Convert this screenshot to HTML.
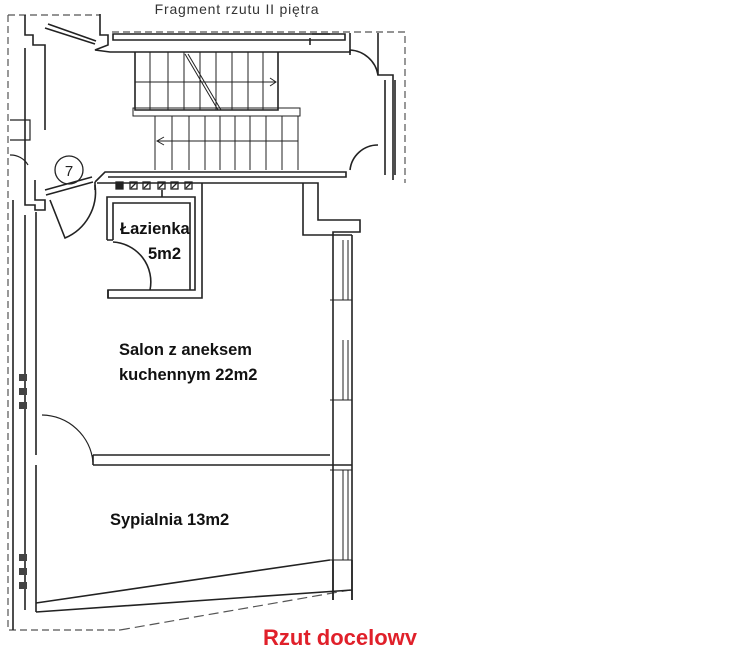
<!DOCTYPE html>
<html><head><meta charset="utf-8"><style>
html,body{margin:0;padding:0;background:#fff;}
svg{display:block;}
</style></head><body>
<svg width="752" height="645" viewBox="0 0 752 645" xmlns="http://www.w3.org/2000/svg">
<g fill="none" stroke="#222" stroke-width="1.6">
<path d="M8 15 H100 M8 15 V630 L120 630 M112 32 H405 V183" stroke-dasharray="7 4" stroke-width="1.2" stroke="#555"/>
<path d="M120 630 L350 590" stroke-dasharray="10 5" stroke-width="1.2" stroke="#555"/>
<path d="M25 15 V35 H33 V45 H45 V130 M25 48 V180"/>
<path d="M100 14 V35 H108 V45 L95 50 L110 52 H350 V50 M113 34 H345 V40 H113 Z"/>
<path d="M45 28 L95 44 M48 24 L96 41"/>
<path d="M350 33 V55 M378 33 V75 H393 V180 M385 80 V175 M395 80 V175"/>
<path d="M350 50 A30 30 0 0 1 378 75 M350 170 A28 28 0 0 1 378 145"/>
<path d="M310 38 V45 M312 34 H330"/>
<path d="M135 52 V110 H278 V52"/>
<path d="M150 52 V110 M168 52 V110 M184 52 V110 M200 52 V110 M216 52 V110 M232 52 V110 M248 52 V110 M263 52 V110" stroke-width="1"/>
<path d="M135 82 H276 M270 78 L276 82 L270 86" stroke-width="1"/>
<path d="M185 54 L218 110 M188 54 L221 110" stroke-width="1"/>
<path d="M133 108 H300 V116 H133 Z" stroke-width="1"/>
<path d="M155 116 V170 M172 116 V170 M189 116 V170 M205 116 V170 M220 116 V170 M235 116 V170 M250 116 V170 M266 116 V170 M282 116 V170 M298 116 V170" stroke-width="1"/>
<path d="M157 141 H298 M164 137 L157 141 L164 145" stroke-width="1"/>
<path d="M95 182 L105 172 H346 V177 H108 M95 182 V190"/>
<circle cx="69" cy="170" r="14" stroke-width="1.3"/>
<path d="M45 190 L92 177 M46 195 L93 182 M50 200 L65 238 A50 50 0 0 0 95 185"/>
<path d="M25 180 V205 H35 V210 H45 V200 H35 V180 M13 200 V630 M25 215 V610 M36 212 V455 M36 465 V605"/>
<path d="M10 120 H30 V140 H10 M10 155 A20 20 0 0 1 28 165" stroke-width="1.2"/>
<g stroke-width="1.3">
<rect x="116" y="182" width="7" height="7" fill="#222"/>
<rect x="130" y="182" width="7" height="7"/><rect x="143" y="182" width="7" height="7"/>
<rect x="158" y="182" width="7" height="7"/><rect x="171" y="182" width="7" height="7"/><rect x="185" y="182" width="7" height="7"/>
<path d="M131 188 l5 -5 M144 188 l5 -5 M159 188 l5 -5 M172 188 l5 -5 M186 188 l5 -5"/>
</g>
<path d="M107 240 V197 H195 V290 H108 V298 H202 V183 M113 240 V203 H190 V290 M113 240 H107 M162 190 V197"/>
<path d="M113 242 A40 40 0 0 1 150 290 M108 290 V298"/>
<path d="M97 183 H318 V220 H360 V232 H333 V600 M303 183 V235 H352 M352 235 V600"/>
<path d="M343 240 V300 M348 240 V300 M330 300 H352 M343 340 V400 M348 340 V400 M330 400 H352 M343 470 V560 M348 470 V560 M330 470 H352 M330 560 H352" stroke-width="1"/>
<path d="M93 455 H330 M93 465 H352 M93 455 V465"/>
<path d="M42 415 A52 52 0 0 1 93 462" stroke-width="1.2"/>
<path d="M36 603 L330 560 M36 605 V612 M36 612 L352 590 M333 560 V600 M352 560 V600"/>
<g fill="#444" stroke="none">
<rect x="19" y="374" width="8" height="7"/><rect x="19" y="388" width="8" height="7"/><rect x="19" y="402" width="8" height="7"/>
<rect x="19" y="554" width="8" height="7"/><rect x="19" y="568" width="8" height="7"/><rect x="19" y="582" width="8" height="7"/>
</g>
</g>
<g font-family="'Liberation Sans', sans-serif">
<text x="237" y="14" text-anchor="middle" font-size="14" letter-spacing="0.8" fill="#333">Fragment rzutu II piętra</text>
<text x="69" y="176" text-anchor="middle" font-size="15" fill="#222">7</text>
<g font-weight="bold" font-size="16.5" fill="#111">
<text x="120" y="234">Łazienka</text>
<text x="148" y="259">5m2</text>
<text x="119" y="355">Salon z aneksem</text>
<text x="119" y="380">kuchennym 22m2</text>
<text x="110" y="525">Sypialnia 13m2</text>
</g>
<text x="263" y="645" font-size="22" font-weight="bold" fill="#e0202a">Rzut docelowy</text>
</g>
</svg>
</body></html>
